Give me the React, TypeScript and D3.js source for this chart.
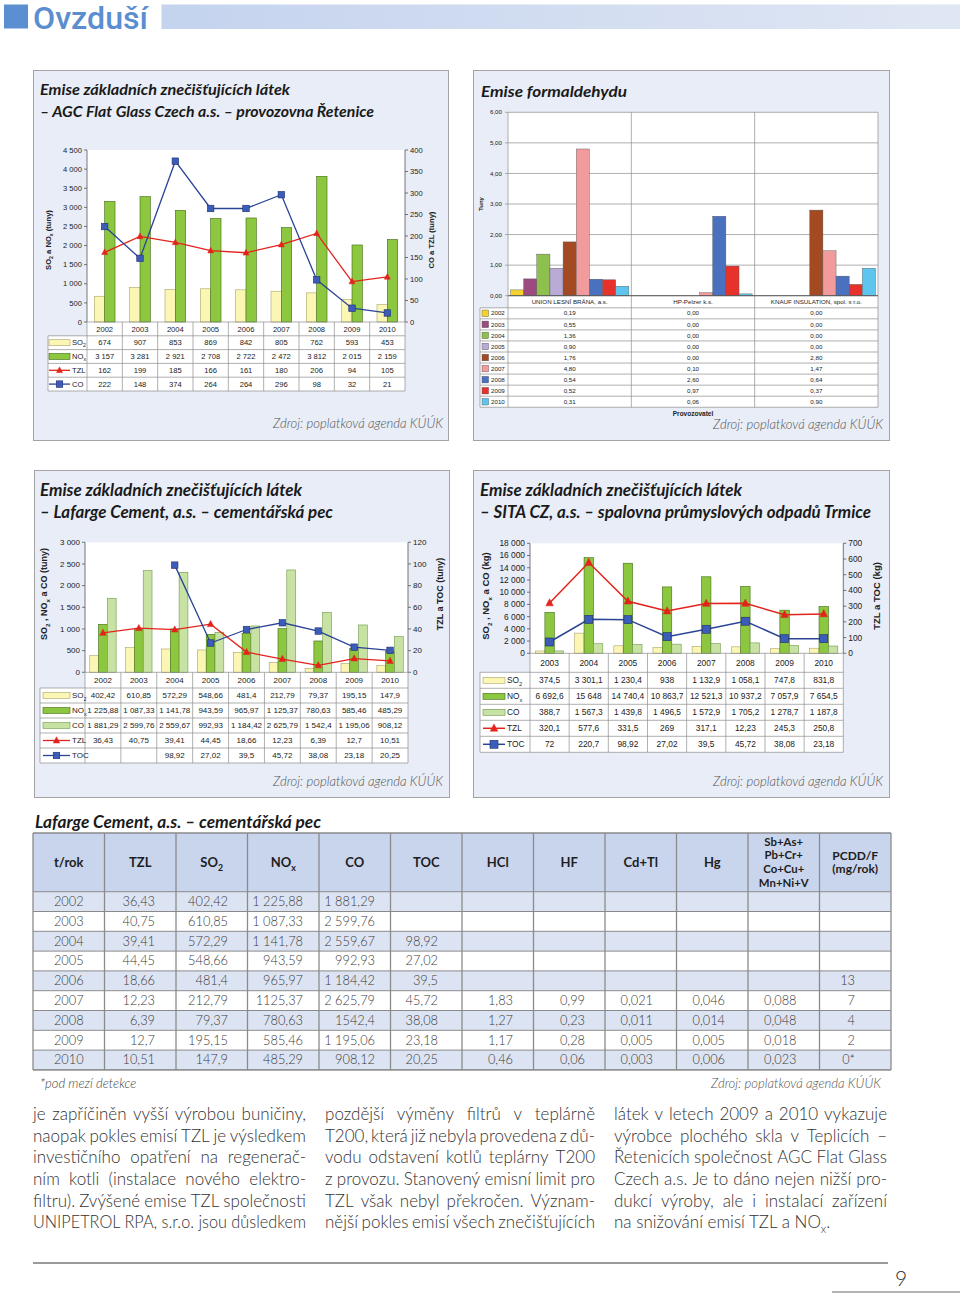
import React from 'react';
import * as d3 from 'd3';

// ---------------- DATA ----------------
const agcYears = ['2002', '2003', '2004', '2005', '2006', '2007', '2008', '2009', '2010'];
const agcSO2 = [674, 907, 853, 869, 842, 805, 762, 593, 453];
const agcNOx = [3157, 3281, 2921, 2708, 2722, 2472, 3812, 2015, 2159];
const agcTZL = [162, 199, 185, 166, 161, 180, 206, 94, 105];
const agcCO = [222, 148, 374, 264, 264, 296, 98, 32, 21];

const formYears = ['2002', '2003', '2004', '2005', '2006', '2007', '2008', '2009', '2010'];
const formCompanies = ['UNION LESNÍ BRÁNA, a.s.', 'HP-Pelzer k.s.', 'KNAUF INSULATION, spol. s r.o.'];
const formUnion = [0.19, 0.55, 1.36, 0.9, 1.76, 4.8, 0.54, 0.52, 0.31];
const formHP = [0, 0, 0, 0, 0, 0.1, 2.6, 0.97, 0.06];
const formKnauf = [0, 0, 0, 0, 2.8, 1.47, 0.64, 0.37, 0.9];
const formColors = ['#f5d22e', '#9c4a80', '#8dc04c', '#baaad6', '#a34a22', '#f19b9d', '#4a70c0', '#e6322b', '#5ec6ee'];

// Lafarge chart: table values (as printed) and bar heights as drawn in the picture
const lafYears = ['2002', '2003', '2004', '2005', '2006', '2007', '2008', '2009', '2010'];
const lafSO2 = [402.42, 610.85, 572.29, 548.66, 481.4, 212.79, 79.37, 195.15, 147.9];
const lafNOx = [1225.88, 1087.33, 1141.78, 943.59, 965.97, 1125.37, 780.63, 585.46, 485.29];
const lafCO = [1881.29, 2599.76, 2559.67, 992.93, 1184.42, 2625.79, 1542.4, 1195.06, 908.12];
const lafTZL = [36.43, 40.75, 39.41, 44.45, 18.66, 12.23, 6.39, 12.7, 10.51];
const lafTOC: (number | null)[] = [null, null, 98.92, 27.02, 39.5, 45.72, 38.08, 23.18, 20.25];
const lafBarSO2 = [385, 577, 538, 515, 461, 223, 92, 200, 162];
const lafBarNOx = [1108, 1000, 1000, 877, 900, 1008, 723, 554, 477];
const lafBarCO = [1708, 2346, 2308, 923, 1069, 2362, 1385, 1092, 823];

const sitaYears = ['2003', '2004', '2005', '2006', '2007', '2008', '2009', '2010'];
const sitaSO2 = [374.5, 3301.1, 1230.4, 938, 1132.9, 1058.1, 747.8, 831.8];
const sitaNOx = [6692.6, 15648, 14740.4, 10863.7, 12521.3, 10937.2, 7057.9, 7654.5];
const sitaCO = [388.7, 1567.3, 1439.8, 1496.5, 1572.9, 1705.2, 1278.7, 1187.8];
const sitaTZL = [320.1, 577.6, 331.5, 269, 317.1, 318, 245.3, 250.8];
const sitaTOC = [72, 216, 214, 106, 153, 204, 93, 93];
const sitaTZLLabels = ['320,1', '577,6', '331,5', '269', '317,1', '12,23', '245,3', '250,8'];
const sitaTOCLabels = ['72', '220,7', '98,92', '27,02', '39,5', '45,72', '38,08', '23,18'];

const tabYears = ['2002', '2003', '2004', '2005', '2006', '2007', '2008', '2009', '2010'];
const tabTZL = ['36,43', '40,75', '39,41', '44,45', '18,66', '12,23', '6,39', '12,7', '10,51'];
const tabSO2 = ['402,42', '610,85', '572,29', '548,66', '481,4', '212,79', '79,37', '195,15', '147,9'];
const tabNOx = ['1 225,88', '1 087,33', '1 141,78', '943,59', '965,97', '1125,37', '780,63', '585,46', '485,29'];
const tabCO = ['1 881,29', '2 599,76', '2 559,67', '992,93', '1 184,42', '2 625,79', '1542,4', '1 195,06', '908,12'];
const tabTOC = ['', '', '98,92', '27,02', '39,5', '45,72', '38,08', '23,18', '20,25'];
const tabHCl = ['', '', '', '', '', '1,83', '1,27', '1,17', '0,46'];
const tabHF = ['', '', '', '', '', '0,99', '0,23', '0,28', '0,06'];
const tabCdTl = ['', '', '', '', '', '0,021', '0,011', '0,005', '0,003'];
const tabHg = ['', '', '', '', '', '0,046', '0,014', '0,005', '0,006'];
const tabMetals = ['', '', '', '', '', '0,088', '0,048', '0,018', '0,023'];
const tabPCDD = ['', '', '', '', '13', '7', '4', '2', '0*'];

const textCol1 = [
  'je zapříčiněn vyšší výrobou buničiny,',
  'naopak pokles emisí TZL je výsledkem',
  'investičního opatření na regenerač-',
  'ním kotli (instalace nového elektro-',
  'filtru). Zvýšené emise TZL společnosti',
  'UNIPETROL RPA, s.r.o. jsou důsledkem',
];
const textCol2 = [
  'pozdější výměny filtrů v teplárně',
  'T200, která již nebyla provedena z dů-',
  'vodu odstavení kotlů teplárny T200',
  'z provozu. Stanovený emisní limit pro',
  'TZL však nebyl překročen. Význam-',
  'nější pokles emisí všech znečišťujících',
];
const textCol3 = [
  'látek v letech 2009 a 2010 vykazuje',
  'výrobce plochého skla v Teplicích –',
  'Řetenicích společnost AGC Flat Glass',
  'Czech a.s. Je to dáno nejen nižší pro-',
  'dukcí výroby, ale i instalací zařízení',
];

// ---------------- HELPERS ----------------
const CHART_FONT = 'Liberation Sans, Arial, sans-serif';
const PAGE_FONT = 'Lato, "Open Sans", sans-serif';

function cz(v: number | null | undefined): string {
  if (v == null) return '';
  const s = String(v);
  const [i, d] = s.split('.');
  const ii = i.replace(/\B(?=(\d{3})+(?!\d))/g, ' ');
  return d ? ii + ',' + d : ii;
}

function Sub({ main, sub, rest, size }: { main: string; sub: string; rest?: string; size: number }) {
  return (
    <>
      <tspan>{main}</tspan>
      <tspan dy={size * 0.28} fontSize={size * 0.68}>{sub}</tspan>
      <tspan dy={-size * 0.28}>{rest || ''}</tspan>
    </>
  );
}

function seriesLabel(key: string, size: number) {
  if (key === 'SO2') return <Sub main="SO" sub="2" size={size} />;
  if (key === 'NOx') return <Sub main="NO" sub="x" size={size} />;
  return key;
}

let measureCtx: CanvasRenderingContext2D | null = null;
function measure(text: string, font: string) {
  if (!measureCtx) measureCtx = document.createElement('canvas').getContext('2d');
  measureCtx!.font = font;
  return measureCtx!.measureText(text).width;
}

function JustLine({ x, y, w, text, size, justify = true }: { x: number; y: number; w: number; text: string; size: number; justify?: boolean }) {
  const font = `300 ${size}px Lato`;
  const words = text.split(' ');
  const ws = words.map((t) => measure(t, font));
  const sum = d3.sum(ws);
  const space = measure(' ', font);
  const gap = justify && words.length > 1 ? (w - sum) / (words.length - 1) : space;
  if (gap < space * 0.55) {
    return (
      <text x={x} y={y} textLength={w} lengthAdjust="spacingAndGlyphs">{text}</text>
    );
  }
  let cx = x;
  return (
    <text y={y}>
      {words.map((t, i) => {
        const el = (
          <tspan key={i} x={cx}>{t}</tspan>
        );
        cx += ws[i] + gap;
        return el;
      })}
    </text>
  );
}

type Series = {
  key: string;
  kind: 'bar' | 'line';
  values: (number | null)[];
  labels: string[];
  fill: string;
  stroke: string;
  marker?: 'tri' | 'sq';
};

type ComboProps = {
  cats: string[];
  x0: number; x1: number; yTop: number; yBot: number;
  lMax: number; lStep: number; rMax: number; rStep: number;
  series: Series[];
  tableLeft: number; yearH: number; rowH: number;
  groupFrac: number; fs: number;
  lTitle: React.ReactNode; rTitle: React.ReactNode;
  lTitleX: number; rTitleX: number; titleY: number; titleFs: number;
  keyX0: number; keyX1: number;
  triS: number; sqS: number; lineW: number;
};

function Marker({ kind, x, y, s, fill, stroke }: { kind: 'tri' | 'sq'; x: number; y: number; s: number; fill: string; stroke: string }) {
  if (kind === 'tri') {
    const h = s * 0.95;
    return <path d={`M${x},${y - h * 0.6} L${x + s / 2},${y + h * 0.4} L${x - s / 2},${y + h * 0.4} Z`} fill={fill} stroke={stroke} strokeWidth={0.5} />;
  }
  return <rect x={x - s / 2} y={y - s / 2} width={s} height={s} fill={fill} stroke={stroke} strokeWidth={0.6} />;
}

function Combo(p: ComboProps) {
  const x = d3.scaleBand<string>().domain(p.cats).range([p.x0, p.x1]);
  const bw = x.bandwidth();
  const yL = d3.scaleLinear().domain([0, p.lMax]).range([p.yBot, p.yTop]);
  const yR = d3.scaleLinear().domain([0, p.rMax]).range([p.yBot, p.yTop]);
  const bars = p.series.filter((s) => s.kind === 'bar');
  const lines = p.series.filter((s) => s.kind === 'line');
  const barW = (bw * p.groupFrac) / bars.length;
  const off = (bw - barW * bars.length) / 2;
  const cx = (c: string) => (x(c) as number) + bw / 2;
  const lTicks = d3.range(0, p.lMax + 1e-9, p.lStep);
  const rTicks = d3.range(0, p.rMax + 1e-9, p.rStep);
  const rowTop = p.yBot + p.yearH;
  const tableBot = rowTop + p.rowH * p.series.length;
  const grid = '#8e8e8e';
  const lineGen = d3
    .line<number | null>()
    .defined((d) => d != null)
    .x((_, i) => cx(p.cats[i]))
    .y((d) => yR(d as number));
  return (
    <g fontFamily={CHART_FONT} fontSize={p.fs} fill="#222">
      <rect x={p.x0} y={p.yTop} width={p.x1 - p.x0} height={p.yBot - p.yTop} fill="#fff" />
      <rect x={p.x0} y={p.yBot} width={p.x1 - p.x0} height={p.yearH} fill="#fff" />
      <rect x={p.tableLeft} y={rowTop} width={p.x1 - p.tableLeft} height={tableBot - rowTop} fill="#fff" />
      {bars.map((b, bi) =>
        b.values.map((v, i) =>
          v == null ? null : (
            <rect
              key={b.key + i}
              x={(x(p.cats[i]) as number) + off + bi * barW}
              y={yL(v)}
              width={barW}
              height={p.yBot - yL(v)}
              fill={b.fill}
              stroke={b.stroke}
              strokeWidth={0.6}
            />
          )
        )
      )}
      <line x1={p.x0} x2={p.x0} y1={p.yTop} y2={p.yBot} stroke="#555" strokeWidth={0.8} />
      <line x1={p.x1} x2={p.x1} y1={p.yTop} y2={p.yBot} stroke="#555" strokeWidth={0.8} />
      {lTicks.map((t) => (
        <g key={'l' + t}>
          <line x1={p.x0 - 3} x2={p.x0} y1={yL(t)} y2={yL(t)} stroke="#555" strokeWidth={0.8} />
          <text x={p.x0 - 5} y={yL(t)} dy="0.35em" textAnchor="end">{cz(t)}</text>
        </g>
      ))}
      {rTicks.map((t) => (
        <g key={'r' + t}>
          <line x1={p.x1} x2={p.x1 + 3} y1={yR(t)} y2={yR(t)} stroke="#555" strokeWidth={0.8} />
          <text x={p.x1 + 5} y={yR(t)} dy="0.35em" textAnchor="start">{cz(t)}</text>
        </g>
      ))}
      <text transform={`translate(${p.lTitleX},${p.titleY}) rotate(-90)`} textAnchor="middle" fontWeight="bold" fontSize={p.titleFs}>{p.lTitle}</text>
      <text transform={`translate(${p.rTitleX},${p.titleY}) rotate(-90)`} textAnchor="middle" fontWeight="bold" fontSize={p.titleFs}>{p.rTitle}</text>
      {lines.map((l) => (
        <g key={l.key}>
          <path d={lineGen(l.values) || ''} fill="none" stroke={l.stroke} strokeWidth={p.lineW} />
          {l.values.map((v, i) =>
            v == null ? null : (
              <Marker key={i} kind={l.marker!} x={cx(p.cats[i])} y={yR(v)} s={l.marker === 'tri' ? p.triS : p.sqS} fill={l.fill} stroke={l.marker === 'tri' ? l.fill : '#1e2f6e'} />
            )
          )}
        </g>
      ))}
      <g stroke={grid} strokeWidth={0.7}>
        <line x1={p.x0} x2={p.x1} y1={p.yBot} y2={p.yBot} />
        {d3.range(p.series.length + 1).map((r) => (
          <line key={'h' + r} x1={p.tableLeft} x2={p.x1} y1={rowTop + r * p.rowH} y2={rowTop + r * p.rowH} />
        ))}
        <line x1={p.tableLeft} x2={p.tableLeft} y1={rowTop} y2={tableBot} />
        {p.cats.map((c) => (
          <line key={'v' + c} x1={x(c)} x2={x(c)} y1={p.yBot} y2={tableBot} />
        ))}
        <line x1={p.x1} x2={p.x1} y1={p.yBot} y2={tableBot} />
      </g>
      {p.cats.map((c) => (
        <text key={'c' + c} x={cx(c)} y={p.yBot + p.yearH / 2} dy="0.35em" textAnchor="middle">{c}</text>
      ))}
      {p.series.map((s, r) => {
        const yc = rowTop + (r + 0.5) * p.rowH;
        const kw = p.keyX1 - p.keyX0;
        return (
          <g key={'row' + s.key}>
            {s.kind === 'bar' ? (
              <rect x={p.keyX0} y={yc - 3} width={kw} height={6} fill={s.fill} stroke={s.stroke} strokeWidth={0.6} />
            ) : (
              <>
                <line x1={p.keyX0} x2={p.keyX1} y1={yc} y2={yc} stroke={s.stroke} strokeWidth={p.lineW} />
                <Marker kind={s.marker!} x={(p.keyX0 + p.keyX1) / 2} y={yc} s={s.marker === 'tri' ? p.triS : p.sqS} fill={s.fill} stroke={s.marker === 'tri' ? s.fill : '#1e2f6e'} />
              </>
            )}
            <text x={p.keyX1 + 2} y={yc} dy="0.35em">{seriesLabel(s.key, p.fs)}</text>
            {s.labels.map((lab, i) => (
              <text key={i} x={cx(p.cats[i])} y={yc} dy="0.35em" textAnchor="middle">{lab}</text>
            ))}
          </g>
        );
      })}
    </g>
  );
}

function Panel({ x, y, w, h }: { x: number; y: number; w: number; h: number }) {
  return <rect x={x + 0.5} y={y + 0.5} width={w} height={h} fill="#e8edf7" stroke="#a3a3a3" strokeWidth={1} />;
}

function Title({ x, y, text, len, size = 16 }: { x: number; y: number; text: string; len: number; size?: number }) {
  return (
    <text x={x} y={y} fontFamily={PAGE_FONT} fontStyle="italic" fontWeight="bold" fontSize={size} fill="#1a1a1a" textLength={len} lengthAdjust="spacingAndGlyphs">
      {text}
    </text>
  );
}

function Source({ right, y, len = 170 }: { right: number; y: number; len?: number }) {
  return (
    <text x={right - len} y={y} fontFamily={PAGE_FONT} fontStyle="italic" fontWeight={300} fontSize={13.5} fill="#555" textLength={len} lengthAdjust="spacingAndGlyphs">
      Zdroj: poplatková agenda KÚÚK
    </text>
  );
}

const C_SO2 = '#fbf6b4';
const C_SO2S = '#a9a46a';
const C_NOX = '#8dc63f';
const C_NOXS = '#3f6d16';
const C_CO = '#c8e2a4';
const C_COS = '#6f9a4c';
const C_RED = '#e3231b';
const C_BLUE = '#3b5cb9';
const C_BLUEL = '#2a4496';

function Formaldehyde() {
  const x0 = 508, x1 = 878, yTop = 112.3, yBot = 295.7;
  const headH = 12.1, rowH = 11.05, legL = 480;
  const outer = d3.scaleBand<string>().domain(formCompanies).range([x0, x1]);
  const inner = d3.scaleBand<string>().domain(formYears).range([0, outer.bandwidth()]).paddingInner(0).paddingOuter(0.19);
  const y = d3.scaleLinear().domain([0, 6]).range([yBot, yTop]);
  const ticks = d3.range(0, 6.0001, 1);
  const data = [formUnion, formHP, formKnauf];
  const rowTop = yBot + headH;
  const tableBot = rowTop + rowH * formYears.length;
  const fs = 6.2;
  return (
    <g fontFamily={CHART_FONT} fontSize={fs} fill="#222">
      <rect x={x0} y={yTop} width={x1 - x0} height={yBot - yTop} fill="#fff" />
      <rect x={x0} y={yBot} width={x1 - x0} height={headH} fill="#fff" />
      <rect x={legL} y={rowTop} width={x1 - legL} height={tableBot - rowTop} fill="#fff" />
      {ticks.map((t) => (
        <g key={t}>
          <line x1={x0 - 3} x2={x1} y1={y(t)} y2={y(t)} stroke="#9a9a9a" strokeWidth={0.8} />
          <text x={x0 - 6} y={y(t)} dy="0.35em" textAnchor="end">{t.toFixed(2).replace('.', ',')}</text>
        </g>
      ))}
      {formCompanies.map((c, ci) =>
        formYears.map((yr, yi) => {
          const v = data[ci][yi];
          if (!v) return null;
          return (
            <rect key={c + yr} x={(outer(c) as number) + (inner(yr) as number)} y={y(v)} width={inner.bandwidth()} height={yBot - y(v)} fill={formColors[yi]} stroke="#555" strokeWidth={0.4} />
          );
        })
      )}
      <g stroke="#8e8e8e" strokeWidth={0.7}>
        {formCompanies.map((c) => (
          <line key={c} x1={outer(c)} x2={outer(c)} y1={yTop} y2={tableBot} />
        ))}
        <line x1={x1} x2={x1} y1={yTop} y2={tableBot} />
        <line x1={legL} x2={legL} y1={rowTop} y2={tableBot} />
        {d3.range(formYears.length + 1).map((r) => (
          <line key={r} x1={legL} x2={x1} y1={rowTop + r * rowH} y2={rowTop + r * rowH} />
        ))}
      </g>
      <line x1={x0} x2={x1} y1={yBot} y2={yBot} stroke="#555" strokeWidth={0.9} />
      <text transform={`translate(${483},${204}) rotate(-90)`} textAnchor="middle" fontWeight="bold" fontSize={6}>Tuny</text>
      {formCompanies.map((c) => (
        <text key={c} x={(outer(c) as number) + outer.bandwidth() / 2} y={yBot + headH / 2} dy="0.35em" textAnchor="middle">{c}</text>
      ))}
      {formYears.map((yr, yi) => {
        const yc = rowTop + (yi + 0.5) * rowH;
        return (
          <g key={yr}>
            <rect x={482} y={yc - 3.3} width={6.6} height={6.6} fill={formColors[yi]} stroke="#555" strokeWidth={0.4} />
            <text x={491} y={yc} dy="0.35em">{yr}</text>
            {formCompanies.map((c, ci) => (
              <text key={c} x={(outer(c) as number) + outer.bandwidth() / 2} y={yc} dy="0.35em" textAnchor="middle">
                {data[ci][yi].toFixed(2).replace('.', ',')}
              </text>
            ))}
          </g>
        );
      })}
      <text x={693} y={416} textAnchor="middle" fontWeight="bold" fontSize={6.5}>Provozovatel</text>
    </g>
  );
}

function BigTable() {
  const left = 33, colW = 71.5, top = 833, headH = 58.7, rowH = 19.8;
  const cols = [tabYears, tabTZL, tabSO2, tabNOx, tabCO, tabTOC, tabHCl, tabHF, tabCdTl, tabHg, tabMetals, tabPCDD];
  const pads = [0, 21, 19.5, 16, 15.5, 24, 20.5, 20, 23.5, 23, 23, 36];
  const nC = cols.length;
  const right = left + colW * nC;
  const bot = top + headH + rowH * tabYears.length;
  const hy = top + headH / 2;
  const fsH = 13;
  const fsM = 11.4;
  const lh = 13.7;
  const headers: React.ReactNode[] = [
    't/rok', 'TZL', <Sub main="SO" sub="2" size={fsH} />, <Sub main="NO" sub="x" size={fsH} />, 'CO', 'TOC', 'HCl', 'HF', 'Cd+Tl', 'Hg',
  ];
  const metLines = ['Sb+As+', 'Pb+Cr+', 'Co+Cu+', 'Mn+Ni+V'];
  const pcLines = ['PCDD/F', '(mg/rok)'];
  return (
    <g fontFamily={PAGE_FONT}>
      <rect x={left} y={top} width={right - left} height={headH} fill="#c8d5ed" />
      {tabYears.map((yr, r) => (
        <rect key={yr} x={left} y={top + headH + r * rowH} width={right - left} height={rowH} fill={r % 2 === 0 ? '#dce4f3' : '#ffffff'} />
      ))}
      <g stroke="#8a8a8a">
        {d3.range(tabYears.length + 1).map((r) => (
          <line key={r} x1={left} x2={right} y1={top + headH + r * rowH} y2={top + headH + r * rowH} strokeWidth={1} />
        ))}
        {d3.range(nC + 1).map((c) => (
          <line key={'c' + c} x1={left + c * colW} x2={left + c * colW} y1={top} y2={bot} strokeWidth={1.3} />
        ))}
        <line x1={left} x2={right} y1={top} y2={top} strokeWidth={1.3} />
        <line x1={left} x2={right} y1={bot} y2={bot} strokeWidth={1.3} />
      </g>
      <g fontWeight="bold" fontSize={fsH} fill="#1e1e1e" textAnchor="middle">
        {headers.map((h, i) => (
          <text key={i} x={left + (i + 0.5) * colW} y={hy} dy="0.35em">{h}</text>
        ))}
        {metLines.map((t, i) => (
          <text key={t} x={left + 10.5 * colW} y={hy + (i - 1.5) * lh} dy="0.35em" fontSize={fsM}>{t}</text>
        ))}
        {pcLines.map((t, i) => (
          <text key={t} x={left + 11.5 * colW} y={hy + (i - 0.5) * lh} dy="0.35em" fontSize={fsM + 0.6}>{t}</text>
        ))}
      </g>
      <g fontSize={12.8} fontWeight={300} fill="#3c3c3c">
        {cols.map((col, ci) =>
          col.map((v, r) => {
            const yc = top + headH + (r + 0.5) * rowH;
            if (ci === 0)
              return <text key={ci + '-' + r} x={left + colW / 2} y={yc} dy="0.35em" textAnchor="middle">{v}</text>;
            return <text key={ci + '-' + r} x={left + (ci + 1) * colW - pads[ci]} y={yc} dy="0.35em" textAnchor="end">{v}</text>;
          })
        )}
      </g>
    </g>
  );
}

export default function App() {
  const agcSeries: Series[] = [
    { key: 'SO2', kind: 'bar', values: agcSO2, labels: agcSO2.map(cz), fill: C_SO2, stroke: C_SO2S },
    { key: 'NOx', kind: 'bar', values: agcNOx, labels: agcNOx.map(cz), fill: C_NOX, stroke: C_NOXS },
    { key: 'TZL', kind: 'line', values: agcTZL, labels: agcTZL.map(cz), fill: C_RED, stroke: C_RED, marker: 'tri' },
    { key: 'CO', kind: 'line', values: agcCO, labels: agcCO.map(cz), fill: C_BLUE, stroke: C_BLUEL, marker: 'sq' },
  ];
  const lafSeries: Series[] = [
    { key: 'SO2', kind: 'bar', values: lafBarSO2, labels: lafSO2.map(cz), fill: C_SO2, stroke: C_SO2S },
    { key: 'NOx', kind: 'bar', values: lafBarNOx, labels: lafNOx.map(cz), fill: C_NOX, stroke: C_NOXS },
    { key: 'CO', kind: 'bar', values: lafBarCO, labels: lafCO.map(cz), fill: C_CO, stroke: C_COS },
    { key: 'TZL', kind: 'line', values: lafTZL, labels: lafTZL.map(cz), fill: C_RED, stroke: C_RED, marker: 'tri' },
    { key: 'TOC', kind: 'line', values: lafTOC, labels: lafTOC.map(cz), fill: C_BLUE, stroke: C_BLUEL, marker: 'sq' },
  ];
  const sitaSeries: Series[] = [
    { key: 'SO2', kind: 'bar', values: sitaSO2, labels: sitaSO2.map(cz), fill: C_SO2, stroke: C_SO2S },
    { key: 'NOx', kind: 'bar', values: sitaNOx, labels: sitaNOx.map(cz), fill: C_NOX, stroke: C_NOXS },
    { key: 'CO', kind: 'bar', values: sitaCO, labels: sitaCO.map(cz), fill: C_CO, stroke: C_COS },
    { key: 'TZL', kind: 'line', values: sitaTZL, labels: sitaTZLLabels, fill: C_RED, stroke: C_RED, marker: 'tri' },
    { key: 'TOC', kind: 'line', values: sitaTOC, labels: sitaTOCLabels, fill: C_BLUE, stroke: C_BLUEL, marker: 'sq' },
  ];
  const tfs = 7.6;
  return (
    <svg width={960} height={1295} style={{ position: 'absolute', left: 0, top: 0, background: '#fff' }}>
      <defs>
        <linearGradient id="hdr" x1="0" x2="1" y1="0" y2="0">
          <stop offset="0" stopColor="#c4d3ee" />
          <stop offset="1" stopColor="#e0e7f4" />
        </linearGradient>
      </defs>
      <rect width={960} height={1295} fill="#fff" />
      {/* header */}
      <rect x={4} y={4.5} width={24} height={24} fill="#5b8fd2" />
      <text x={33} y={28.6} fontFamily={'Roboto, sans-serif'} fontWeight={500} fontSize={30.5} fill="#5b8ed1" textLength={115} lengthAdjust="spacingAndGlyphs">Ovzduší</text>
      <rect x={161.5} y={4.5} width={800} height={24.5} fill="url(#hdr)" />

      {/* Panel 1 */}
      <Panel x={33} y={70} w={415} h={370} />
      <Title x={40} y={95} text="Emise základních znečišťujících látek" len={250} size={15.5} />
      <Title x={40} y={116.5} text="– AGC Flat Glass Czech a.s. – provozovna Řetenice" len={334} size={15.5} />
      <Combo
        cats={agcYears} x0={87} x1={405} yTop={150} yBot={322}
        lMax={4500} lStep={500} rMax={400} rStep={50}
        series={agcSeries} tableLeft={48} yearH={13.8} rowH={13.8}
        groupFrac={0.586} fs={tfs}
        lTitle={<><Sub main="SO" sub="2" rest=" a NO" size={tfs} /><tspan dy={tfs * 0.28} fontSize={tfs * 0.68}>x</tspan><tspan dy={-tfs * 0.28}> (tuny)</tspan></>}
        rTitle="CO a TZL (tuny)"
        lTitleX={51} rTitleX={434} titleY={240} titleFs={tfs}
        keyX0={49} keyX1={70} triS={6} sqS={6.5} lineW={1.3}
      />
      <Source right={443} y={428} />

      {/* Panel 2 */}
      <Panel x={473} y={70} w={416} h={370} />
      <Title x={481} y={97} text="Emise formaldehydu" len={146} size={15.5} />
      <Formaldehyde />
      <Source right={883} y={429} />

      {/* Panel 3 */}
      <Panel x={34} y={470} w={415} h={327} />
      <Title x={40} y={496} text="Emise základních znečišťujících látek" len={262} size={16.5} />
      <Title x={40} y={518} text="– Lafarge Cement, a.s. – cementářská pec" len={293} size={16.5} />
      <Combo
        cats={lafYears} x0={85} x1={408} yTop={542.3} yBot={672.3}
        lMax={3000} lStep={500} rMax={120} rStep={20}
        series={lafSeries} tableLeft={40} yearH={15.7} rowH={15}
        groupFrac={0.735} fs={8}
        lTitle={<><Sub main="SO" sub="2" rest=" , NO" size={9} /><tspan dy={9 * 0.28} fontSize={9 * 0.68}>x</tspan><tspan dy={-9 * 0.28}> a CO (tuny)</tspan></>}
        rTitle="TZL a TOC (tuny)"
        lTitleX={47} rTitleX={443} titleY={594} titleFs={9}
        keyX0={43} keyX1={70} triS={6.5} sqS={6.5} lineW={1.3}
      />
      <Source right={443} y={786} />

      {/* Panel 4 */}
      <Panel x={473} y={470} w={416} h={327} />
      <Title x={480} y={496} text="Emise základních znečišťujících látek" len={262} size={16.5} />
      <Title x={480} y={518} text="– SITA CZ, a.s. – spalovna průmyslových odpadů Trmice" len={391} size={16.5} />
      <Combo
        cats={sitaYears} x0={530} x1={843.3} yTop={543.3} yBot={653.3}
        lMax={18000} lStep={2000} rMax={700} rStep={100}
        series={sitaSeries} tableLeft={480} yearH={19} rowH={16}
        groupFrac={0.72} fs={8.4}
        lTitle={<><Sub main="SO" sub="2" rest=" , NO" size={9} /><tspan dy={9 * 0.28} fontSize={9 * 0.68}>x</tspan><tspan dy={-9 * 0.28}> a CO (kg)</tspan></>}
        rTitle="TZL a TOC (kg)"
        lTitleX={489} rTitleX={880} titleY={596} titleFs={9.5}
        keyX0={483} keyX1={505} triS={7.5} sqS={8} lineW={1.5}
      />
      <Source right={883} y={786} />

      {/* Big table */}
      <Title x={35} y={828} text="Lafarge Cement, a.s. – cementářská pec" len={286} size={16.5} />
      <BigTable />
      <text x={40} y={1088} fontFamily={PAGE_FONT} fontStyle="italic" fontWeight={300} fontSize={13} fill="#444">*pod mezí detekce</text>
      <Source right={881} y={1088} />

      {/* Body text */}
      <g fontFamily={PAGE_FONT} fontWeight={300} fontSize={17} fill="#333">
        {textCol1.map((t, i) => (
          <JustLine key={'a' + i} x={33} y={1120 + i * 21.66} w={273} text={t} size={17} />
        ))}
        {textCol2.map((t, i) => (
          <JustLine key={'b' + i} x={325} y={1120 + i * 21.66} w={270} text={t} size={17} />
        ))}
        {textCol3.map((t, i) => (
          <JustLine key={'c' + i} x={614} y={1120 + i * 21.66} w={273} text={t} size={17} />
        ))}
        <text x={614} y={1120 + 5 * 21.66}>
          <Sub main="na snižování emisí TZL a NO" sub="x" rest="." size={17} />
        </text>
      </g>

      {/* footer */}
      <line x1={33} x2={888} y1={1263} y2={1263} stroke="#9a9a9a" strokeWidth={2} />
      <text x={901} y={1286} textAnchor="middle" fontFamily={PAGE_FONT} fontWeight={300} fontSize={21} fill="#333">9</text>
      <line x1={832} x2={960} y1={1292} y2={1292} stroke="#9a9a9a" strokeWidth={1.5} />
    </svg>
  );
}
